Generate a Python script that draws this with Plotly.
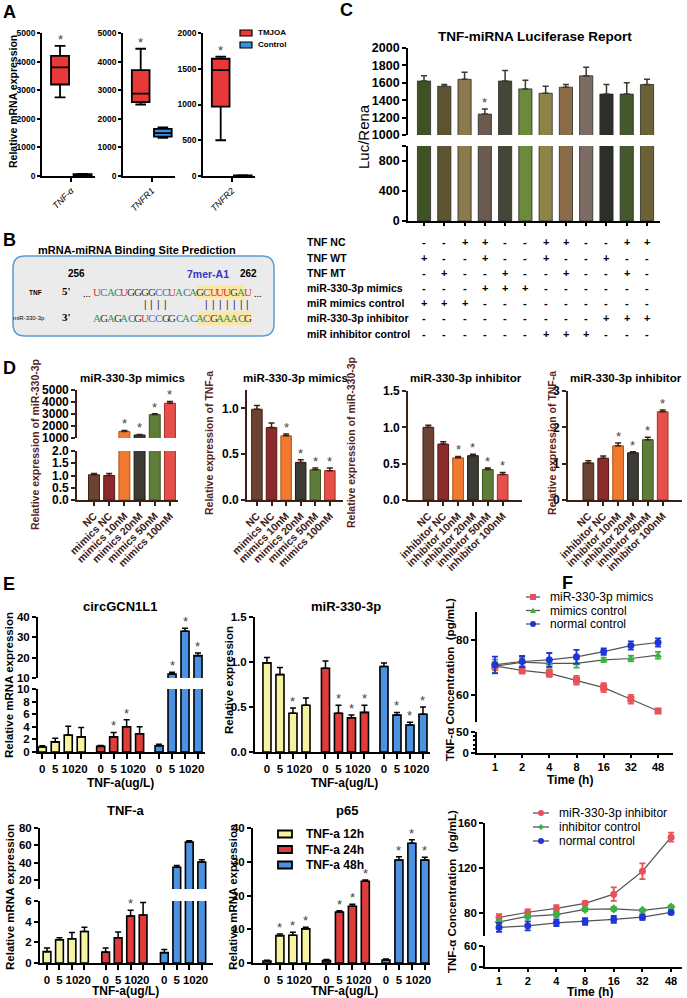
import plotly.graph_objects as go

W, H = 687, 998
FONT = "Arial"

# ---------------- DATA ----------------
# Panel A (box stats)
A_genes = ["TNF-α", "TNFR1", "TNFR2"]
A_groups = ["TMJOA", "Control"]
A_tmjoa_low = [2750, 2500, 500]
A_tmjoa_q1 = [3200, 2580, 970]
A_tmjoa_med = [3800, 2880, 1480]
A_tmjoa_q3 = [4200, 3700, 1640]
A_tmjoa_high = [4550, 4450, 1670]
A_ctrl_low = [25, 1330, 2]
A_ctrl_q1 = [35, 1380, 4]
A_ctrl_med = [50, 1500, 7]
A_ctrl_q3 = [65, 1650, 10]
A_ctrl_high = [75, 1700, 13]

# Panel B
B_tnf_seq = "UCACUGGGGCCUACAGCUUUGAU"
B_mir_seq = "AGAGACGUCCGGCACACGAAACG"
B_pairs = [7, 8, 9, 10, 16, 17, 18, 19, 20, 21, 22]

# Panel C
C_vals = [1620, 1560, 1640, 1240, 1620, 1530, 1480, 1550, 1680, 1470, 1470, 1580]
C_err = [60, 20, 80, 60, 120, 100, 80, 30, 100, 110, 130, 60]
C_stars = [3]
C_rows = ["TNF NC", "TNF WT", "TNF MT", "miR-330-3p mimics", "miR mimics control",
          "miR-330-3p inhibitor", "miR inhibitor control"]
C_table = [
    "--++--++--++",
    "+--+--+--+--",
    "-+--+--+--+-",
    "---+++------",
    "+++---------",
    "---------+++",
    "------+++---",
]

# Panel D
D_mim_labels = ["NC", "mimics NC", "mimics 10nM", "mimics 20nM", "mimics 50nM", "mimics 100nM"]
D_inh_labels = ["NC", "inhibitor NC", "inhibitor 10nM", "inhibitor 20nM", "inhibitor 50nM", "inhibitor 100nM"]
D1_vals = [1.03, 1.0, 1550, 1250, 2950, 3900]
D1_err = [0.05, 0.08, 80, 50, 80, 150]
D2_vals = [0.99, 0.79, 0.70, 0.41, 0.33, 0.32]
D2_err = [0.04, 0.05, 0.02, 0.03, 0.02, 0.03]
D3_vals = [1.0, 0.77, 0.58, 0.61, 0.42, 0.35]
D3_err = [0.03, 0.03, 0.02, 0.02, 0.02, 0.03]
D4_vals = [1.02, 1.15, 1.49, 1.30, 1.66, 2.43]
D4_err = [0.06, 0.06, 0.08, 0.03, 0.07, 0.05]
D_stars = [2, 3, 4, 5]

# Panel E
E_doses = ["0", "5", "10", "20"]
E_groups = ["TNF-a 12h", "TNF-a 24h", "TNF-a 48h"]
E1_vals = [[0.8, 1.6, 2.7, 2.4], [0.9, 2.4, 4.0, 2.9], [1.0, 12, 33, 21]]
E1_err = [[0.2, 0.6, 1.4, 1.5], [0.15, 0.7, 1.1, 1.1], [0.25, 0.8, 1.5, 1.3]]
E1_stars = [[], [1, 2], [1, 2, 3]]
E2_vals = [[0.99, 0.86, 0.43, 0.52], [0.93, 0.43, 0.38, 0.44], [0.95, 0.41, 0.30, 0.42]]
E2_err = [[0.06, 0.08, 0.06, 0.08], [0.08, 0.09, 0.03, 0.08], [0.04, 0.03, 0.03, 0.08]]
E2_stars = [[2], [1, 2, 3], [1, 2, 3]]
E3_vals = [[1.1, 2.25, 2.35, 3.05], [1.05, 2.45, 4.55, 4.65], [1.0, 35, 64, 41]]
E3_err = [[0.35, 0.2, 0.6, 0.4], [0.4, 0.55, 0.55, 1.2], [0.3, 2, 1.5, 2.5]]
E3_stars = [[], [2], []]
E4_vals = [[0.6, 8.1, 8.2, 10.1], [0.7, 15.1, 16.8, 24.2], [0.9, 30.5, 35.5, 30.5]]
E4_err = [[0.2, 0.5, 0.9, 0.5], [0.3, 0.4, 0.6, 0.4], [0.3, 1.0, 1.0, 0.8]]
E4_stars = [[1, 2, 3], [1, 2, 3], [1, 2, 3]]

# Panel F
F_times = ["1", "2", "4", "8", "16", "32", "48"]
F1_names = ["miR-330-3p mimics", "mimics control", "normal control"]
F1_mimics = [70.3, 68.8, 67.7, 65.2, 62.5, 58.3, 54.0]
F1_mimics_err = [1.5, 1.2, 1.3, 1.6, 1.6, 1.6, 0.8]
F1_mctrl = [70.2, 71.8, 71.3, 71.3, 72.6, 73.1, 74.3]
F1_mctrl_err = [2.5, 1.5, 1.5, 1.5, 0.8, 1.0, 1.2]
F1_norm = [70.8, 72.0, 72.6, 73.7, 75.6, 77.8, 78.9]
F1_norm_err = [3, 2, 2.5, 2.5, 1.2, 1.5, 1.5]
F1_stars = [4, 5, 6]
F2_names = ["miR-330-3p inhibitor", "inhibitor control", "normal control"]
F2_inh = [76.4, 81.0, 84.4, 88.9, 97.0, 117.3, 147.5]
F2_inh_err = [3, 2.5, 3, 2, 6, 7, 4]
F2_ictrl = [72.5, 77.3, 79.0, 83.6, 84.0, 82.7, 85.6]
F2_ictrl_err = [2, 2, 2, 1.5, 1.5, 1, 1.5]
F2_norm = [67.6, 69.0, 71.7, 72.9, 74.7, 76.7, 80.9]
F2_norm_err = [4, 4, 3, 3, 3, 2.5, 1.5]
F2_stars = [5, 6]

# ---------------- STYLE ----------------
A_cols = ["#e8383a", "#3b8fe0"]
C_cols = ['#3f5226', '#5e5530', '#8c7a4c', '#6a5a50', '#454538', '#6b8a3a',
          '#8f8448', '#8a6c4a', '#7d6c63', '#2c2e28', '#445a2c', '#6b6235']
D_cols = ['#6b4332', '#8b2a2a', '#f07a30', '#3c3c34', '#5e7d38', '#e6504a']
D_edge = ['#3a2010', '#5a1515', '#b05010', '#1a1a15', '#3a5520', '#b02a25']
D_line = '#3d2015'
D_title_col = '#5a2418'
E_cols = ['#f5f3a0', '#e23b3b', '#4b92e3']
F1_style = [('#e8505a', 'square'), ('#3cb043', 'triangle-up'), ('#1f35d6', 'circle')]
F2_style = [('#e8505a', 'circle'), ('#3cb043', 'diamond'), ('#1f35d6', 'circle')]
NT_COL = {'A': '#2e9e4a', 'C': '#3b6fc4', 'G': '#333333', 'U': '#e2322e'}

fig = go.Figure()
L = dict(width=W, height=H, margin=dict(l=0, r=0, t=0, b=0, autoexpand=False), paper_bgcolor='white',
         plot_bgcolor='rgba(0,0,0,0)', showlegend=False, font=dict(family=FONT, color='black'))
ann, shp = [], []
cnt = [0]


def P(x):
    return x / W


def Q(y):
    return 1 - y / H


def tf(size, color='black', bold=True, style=None):
    d = dict(family=FONT, size=size, color=color)
    if bold:
        d['weight'] = 'bold'
    if style:
        d['style'] = style
    return d


def mk_axes(x0, x1, ytop, ybot, xr, yr, show_x=True, xtype='linear', xkw=None, ykw=None,
            lc='black', lw=1.6, tsize=11):
    cnt[0] += 1
    i = cnt[0]
    s = '' if i == 1 else str(i)
    xa = dict(domain=[P(x0), P(x1)], range=xr, anchor='y' + s, type=xtype, showgrid=False,
              zeroline=False, showline=show_x, linecolor=lc, linewidth=lw, automargin=False,
              ticks='outside' if show_x else '', ticklen=4, tickwidth=lw, tickcolor=lc,
              showticklabels=show_x, tickfont=tf(tsize), fixedrange=True, tickangle=0)
    ya = dict(domain=[Q(ybot), Q(ytop)], range=yr, anchor='x' + s, showgrid=False, zeroline=False,
              showline=True, linecolor=lc, linewidth=lw, ticks='outside', ticklen=4, tickwidth=lw,
              tickcolor=lc, tickfont=tf(tsize), fixedrange=True, automargin=False)
    if xkw:
        xa.update(xkw)
    if ykw:
        ya.update(ykw)
    L['xaxis' + s] = xa
    L['yaxis' + s] = ya
    return 'x' + s, 'y' + s


def text(x, y, t, size=11, color='black', bold=True, xanchor='center', angle=0, family=FONT,
         yanchor='middle'):
    f = dict(family=family, size=size, color=color)
    if bold:
        f['weight'] = 'bold'
    ann.append(dict(x=P(x), y=Q(y), xref='paper', yref='paper', text=t, showarrow=False,
                    xanchor=xanchor, yanchor=yanchor, textangle=angle, font=f))


def swatch(x0, x1, yc, h, color, lw=1.5):
    shp.append(dict(type='rect', xref='paper', yref='paper', x0=P(x0), x1=P(x1),
                    y0=Q(yc + h / 2), y1=Q(yc - h / 2), fillcolor=color,
                    line=dict(color='black', width=lw)))


def legend_marker(cx, cy, half, color, symbol, r=3):
    # legend key: short grey line with a coloured marker
    shp.append(dict(type='line', xref='paper', yref='paper', x0=P(cx - half), x1=P(cx + half),
                    y0=Q(cy), y1=Q(cy), line=dict(color='#555555', width=1.3)))
    if symbol == 'square':
        shp.append(dict(type='rect', xref='paper', yref='paper', x0=P(cx - r), x1=P(cx + r),
                        y0=Q(cy + r), y1=Q(cy - r), fillcolor=color, line=dict(width=0)))
    elif symbol == 'circle':
        shp.append(dict(type='circle', xref='paper', yref='paper', x0=P(cx - r), x1=P(cx + r),
                        y0=Q(cy + r), y1=Q(cy - r), fillcolor=color, line=dict(width=0)))
    elif symbol == 'triangle-up':
        pth = f"M {P(cx - r)},{Q(cy + r * 0.8)} L {P(cx + r)},{Q(cy + r * 0.8)} L {P(cx)},{Q(cy - r)} Z"
        shp.append(dict(type='path', path=pth, xref='paper', yref='paper', fillcolor=color, line=dict(width=0)))
    elif symbol == 'diamond':
        pth = f"M {P(cx - r)},{Q(cy)} L {P(cx)},{Q(cy - r)} L {P(cx + r)},{Q(cy)} L {P(cx)},{Q(cy + r)} Z"
        shp.append(dict(type='path', path=pth, xref='paper', yref='paper', fillcolor=color, line=dict(width=0)))


def star(xr, yr, x, y, below=False, size=13):
    ann.append(dict(x=x, y=y, xref=xr, yref=yr, text='*', showarrow=False,
                    xanchor='center', yanchor='top' if below else 'bottom',
                    yshift=-1 if below else -3, font=dict(family=FONT, size=size, color='#444')))


def err_up(arr, color='black', thick=1.5, width=3):
    return dict(type='data', symmetric=False, array=arr, arrayminus=[0] * len(arr),
                color=color, thickness=thick, width=width)


def bar_panel(segs, xs, vals, errs, cols, edges, width, stars, lw=1.0, ecol='black'):
    for (xr, yr, lo, hi) in segs:
        fig.add_trace(go.Bar(x=xs, y=vals, width=width, xaxis=xr, yaxis=yr,
                             marker=dict(color=cols, line=dict(color=edges, width=lw)),
                             error_y=err_up(errs, ecol), showlegend=False, hoverinfo='skip'))
    for k in stars:
        top = vals[k] + errs[k]
        for (xr, yr, lo, hi) in segs:
            if lo <= top <= hi:
                star(xr, yr, xs[k], top)


# ---------------- PANEL A ----------------
A_layout = [(42, 95, [0, 5000], 1000), (123, 175, [0, 5000], 1000), (203, 255, [0, 2000], 500)]
for g, (x0, x1, yr, dt) in enumerate(A_layout):
    xr, yr_ = mk_axes(x0, x1, 33, 176, [-0.8, 1.55], yr, tsize=8.5, lw=1.8,
                      xkw=dict(tickvals=[0.5], ticktext=[A_genes[g]], tickangle=-45,
                               tickfont=tf(9, style='italic', bold=False)),
                      ykw=dict(dtick=dt, ticklen=3))
    stats = [(A_tmjoa_low, A_tmjoa_q1, A_tmjoa_med, A_tmjoa_q3, A_tmjoa_high),
             (A_ctrl_low, A_ctrl_q1, A_ctrl_med, A_ctrl_q3, A_ctrl_high)]
    for j, st in enumerate(stats):
        fig.add_trace(go.Box(x=[j], lowerfence=[st[0][g]], q1=[st[1][g]], median=[st[2][g]],
                             q3=[st[3][g]], upperfence=[st[4][g]], orientation='v',
                             fillcolor=A_cols[j], line=dict(color='black', width=1.8),
                             width=0.8, whiskerwidth=0.6, boxpoints=False, name=A_groups[j],
                             showlegend=False, xaxis=xr, yaxis=yr_, hoverinfo='skip'))
    star(xr, yr_, 0, A_tmjoa_high[g])
for j, nm in enumerate(A_groups):
    swatch(240, 252, 33 + 12 * j, 6, A_cols[j], lw=1.2)
    text(256, 33 + 12 * j, nm, size=8, xanchor='left')
text(13, 102, "Relative mRNA expression", size=10.5, angle=-90)

# ---------------- PANEL B ----------------
bx0, bx1, by0, by1, r = 13, 274, 256, 336, 12
path = (f"M {P(bx0 + r)},{Q(by0)} L {P(bx1 - r)},{Q(by0)} Q {P(bx1)},{Q(by0)} {P(bx1)},{Q(by0 + r)} "
        f"L {P(bx1)},{Q(by1 - r)} Q {P(bx1)},{Q(by1)} {P(bx1 - r)},{Q(by1)} "
        f"L {P(bx0 + r)},{Q(by1)} Q {P(bx0)},{Q(by1)} {P(bx0)},{Q(by1 - r)} "
        f"L {P(bx0)},{Q(by0 + r)} Q {P(bx0)},{Q(by0)} {P(bx0 + r)},{Q(by0)} Z")
shp.append(dict(type='path', path=path, xref='paper', yref='paper', fillcolor='#ebebeb',
                line=dict(color='#5b9bd5', width=1.5), layer='below'))
text(137, 250, "mRNA-miRNA Binding Site Prediction", size=11)
cx0, cdx = 97, 6.86
shp.append(dict(type='rect', xref='paper', yref='paper', x0=P(cx0 + cdx * 14.6), x1=P(cx0 + cdx * 21.6),
                y0=Q(299), y1=Q(285), fillcolor='#fbe6a8', line=dict(width=0), layer='below'))
shp.append(dict(type='rect', xref='paper', yref='paper', x0=P(cx0 + cdx * 14.6), x1=P(cx0 + cdx * 22.5),
                y0=Q(325), y1=Q(311), fillcolor='#fbe6a8', line=dict(width=0), layer='below'))
text(76, 274, "256", size=10)
text(208, 274, "7mer-A1", size=10.5, color='#3535c8')
text(248, 274, "262", size=10)
text(35, 292, "TNF", size=6.5)
text(29, 318, "miR-330-3p", size=6, bold=False)
text(66, 291, "5'", size=11, family="Liberation Serif")
text(66, 317, "3'", size=11, family="Liberation Serif")
text(cx0 - 4, 293, "...", size=10, family="Liberation Serif", bold=False, xanchor='right')
text(cx0 + cdx * 22 + 4, 293, "...", size=10, family="Liberation Serif", bold=False, xanchor='left')
for i, ch in enumerate(B_tnf_seq):
    text(cx0 + cdx * i, 292, ch, size=11, color=NT_COL[ch], family="Liberation Serif", bold=False)
for i, ch in enumerate(B_mir_seq):
    text(cx0 + cdx * i, 318, ch, size=11, color=NT_COL[ch], family="Liberation Serif", bold=False)
for i in B_pairs:
    text(cx0 + cdx * i, 304, "|", size=10, color='#333', bold=False)

# ---------------- PANEL C ----------------
C_x = list(range(len(C_vals)))
cxr = [-0.79, 11.64]
xu, yu = mk_axes(408, 660, 48, 135, cxr, [1000, 2000], show_x=False, tsize=12.5, lw=1.8,
                 ykw=dict(dtick=200))
xl, yl = mk_axes(408, 660, 146, 221, cxr, [0, 1000], tsize=12.5, lw=1.8,
                 xkw=dict(tickvals=C_x, showticklabels=False, ticklen=3),
                 ykw=dict(tickvals=[0, 400, 800, 1000], ticktext=['0', '400', '800', '']))
bar_panel([(xu, yu, 1000, 2000), (xl, yl, 0, 1000)], C_x, C_vals, C_err, C_cols,
          '#2a2a22', 0.65, C_stars, lw=0.8, ecol='#3a3a30')
text(535, 37, "TNF-miRNA Luciferase Report", size=13.5)
text(364, 137, "Luc/Rena", size=15, angle=-90, bold=False)
C_row_y = [242, 258, 273, 288, 303, 318, 334]
for ri, lab in enumerate(C_rows):
    text(305, C_row_y[ri], lab, size=10.5, xanchor='left')
    for k, ch in enumerate(C_table[ri]):
        ann.append(dict(x=k, y=Q(C_row_y[ri]), xref=xl, yref='paper', text=ch, showarrow=False,
                        xanchor='center', yanchor='middle', font=tf(11)))

# ---------------- PANEL D ----------------
dkw_x = dict(tickangle=-45, tickfont=tf(10.5, color=D_line))
x1u, y1u = mk_axes(77, 178, 390, 438, [-1.12, 5.53], [1000, 5000], show_x=False, lc=D_line,
                   tsize=12, xtype='category', ykw=dict(dtick=1000))
x1l, y1l = mk_axes(77, 178, 451, 500, [-1.12, 5.53], [0, 2.0], lc=D_line, tsize=12,
                   xtype='category', xkw=dkw_x, ykw=dict(dtick=0.5, tickformat='.1f'))
bar_panel([(x1u, y1u, 1000, 5000), (x1l, y1l, 0, 2.0)], D_mim_labels, D1_vals, D1_err, D_cols,
          D_edge, 0.72, D_stars, ecol=D_line)
x2, y2 = mk_axes(247, 343, 390, 500, [-0.68, 5.9], [0, 1.2], lc=D_line, tsize=12, xtype='category',
                 xkw=dkw_x, ykw=dict(tickvals=[0, 0.5, 1.0], tickformat='.1f'))
bar_panel([(x2, y2, 0, 1.2)], D_mim_labels, D2_vals, D2_err, D_cols, D_edge, 0.72, D_stars, ecol=D_line)
x3, y3 = mk_axes(408, 522, 391, 500, [-1.37, 6.3], [0, 1.5], lc=D_line, tsize=12, xtype='category',
                 xkw=dkw_x, ykw=dict(dtick=0.5, tickformat='.1f'))
bar_panel([(x3, y3, 0, 1.5)], D_inh_labels, D3_vals, D3_err, D_cols, D_edge, 0.72, D_stars, ecol=D_line)
x4, y4 = mk_axes(568, 682, 391, 500, [-1.37, 6.3], [0, 3], lc=D_line, tsize=12, xtype='category',
                 xkw=dkw_x, ykw=dict(dtick=1))
bar_panel([(x4, y4, 0, 3)], D_inh_labels, D4_vals, D4_err, D_cols, D_edge, 0.72, D_stars, ecol=D_line)
text(132, 378, "miR-330-3p mimics", size=11.5)
text(295, 378, "miR-330-3p mimics", size=11.5)
text(466, 378, "miR-330-3p inhibitor", size=11.5)
text(626, 378, "miR-330-3p inhibitor", size=11.5)
text(35, 445, "Relative expression of miR-330-3p", size=10.5, angle=-90, color=D_title_col)
text(209, 443, "Relative expression of TNF-a", size=10.5, angle=-90, color=D_title_col)
text(351, 443, "Relative expression of miR-330-3p", size=10.5, angle=-90, color=D_title_col)
text(552, 443, "Relative expression of TNF-a", size=10.5, angle=-90, color=D_title_col)


# ---------------- PANEL E ----------------
def e_positions(gs):
    return [[g * gs + j for j in range(len(E_doses))] for g in range(len(E_groups))]


def e_panel(segs, gs, vals, errs, stars):
    pos = e_positions(gs)
    for si, (xr, yr, lo, hi) in enumerate(segs):
        for g in range(len(E_groups)):
            fig.add_trace(go.Bar(x=pos[g], y=vals[g], width=0.62, xaxis=xr, yaxis=yr,
                                 name=E_groups[g], marker=dict(color=E_cols[g], line=dict(color='black', width=1.6)),
                                 error_y=err_up(errs[g]), showlegend=False, hoverinfo='skip'))
    for g in range(len(E_groups)):
        for k in stars[g]:
            top = vals[g][k] + errs[g][k]
            for (xr, yr, lo, hi) in segs:
                if lo <= top <= hi:
                    star(xr, yr, pos[g][k], top)
    return pos


def e_xkw(gs):
    pos = e_positions(gs)
    tv = [p for grp in pos for p in grp]
    return dict(tickvals=tv, ticktext=E_doses * len(E_groups), tickfont=tf(11.5), ticklen=5, tickangle=0)


gs1 = 4.5
e1u = mk_axes(38, 205, 617, 678, [-0.33, 12.54], [10, 40], show_x=False, lw=2, tsize=11.5,
              ykw=dict(dtick=10))
e1l = mk_axes(38, 205, 689, 752, [-0.33, 12.54], [0, 10], lw=2, tsize=11.5, xkw=e_xkw(gs1),
              ykw=dict(dtick=2))
e_panel([(e1u[0], e1u[1], 10, 40), (e1l[0], e1l[1], 0, 10)], gs1, E1_vals, E1_err, E1_stars)
gs2 = 4.5
e2 = mk_axes(255, 430, 617, 752, [-0.92, 12.54], [0, 1.5], lw=2, tsize=11.5, xkw=e_xkw(gs2),
             ykw=dict(dtick=0.5, tickformat='.1f'))
e_panel([(e2[0], e2[1], 0, 1.5)], gs2, E2_vals, E2_err, E2_stars)
gs3 = 4.7
e3u = mk_axes(40, 213, 828, 889, [-0.56, 13.3], [10, 80], show_x=False, lw=2, tsize=11.5,
              ykw=dict(tickvals=[20, 40, 60, 80]))
e3l = mk_axes(40, 213, 901, 963, [-0.56, 13.3], [0, 6], lw=2, tsize=11.5, xkw=e_xkw(gs3),
              ykw=dict(dtick=2))
e_panel([(e3u[0], e3u[1], 10, 80), (e3l[0], e3l[1], 0, 6)], gs3, E3_vals, E3_err, E3_stars)
gs4 = 4.6
e4 = mk_axes(253, 430, 828, 963, [-1.08, 12.6], [0, 40], lw=2, tsize=11.5, xkw=e_xkw(gs4),
             ykw=dict(dtick=10))
e_panel([(e4[0], e4[1], 0, 40)], gs4, E4_vals, E4_err, E4_stars)
for g, nm in enumerate(E_groups):
    swatch(278, 292, 834 + 15.5 * g, 7, E_cols[g], lw=1.8)
    text(304, 834 + 15.5 * g, nm, size=12, xanchor='left')
text(120, 606, "circGCN1L1", size=13)
text(346, 606, "miR-330-3p", size=13)
text(126, 810, "TNF-a", size=13)
text(347, 810, "p65", size=13)
text(120, 783, "TNF-a(ug/L)", size=12)
text(344, 783, "TNF-a(ug/L)", size=12)
text(125, 991, "TNF-a(ug/L)", size=12)
text(344, 991, "TNF-a(ug/L)", size=12)
text(9, 685, "Relative mRNA expression", size=11.5, angle=-90)
text(229, 680, "Relative expression", size=11.5, angle=-90)
text(10, 897, "Relative mRNA expression", size=11.5, angle=-90)
text(233, 897, "Relative mRNA expression", size=11.5, angle=-90)


# ---------------- PANEL F ----------------
def f_trace(segs, vals, errs, name, color, symbol, size=7):
    (xu_, yu_), (xl_, yl_) = segs
    fig.add_trace(go.Scatter(x=F_times, y=vals, mode='lines+markers', name=name, xaxis=xu_, yaxis=yu_,
                             line=dict(color='#555555', width=1.2),
                             marker=dict(symbol=symbol, color=color, size=size),
                             error_y=dict(type='data', array=errs, color=color, thickness=1.8, width=3),
                             showlegend=False, hoverinfo='skip'))
    # lower (broken) segment: same series, only the clipped line (values lie above this segment)
    fig.add_trace(go.Scatter(x=F_times, y=vals, mode='lines', xaxis=xl_, yaxis=yl_,
                             line=dict(color='#555555', width=1.2), showlegend=False, hoverinfo='skip'))


fxr1 = [-0.66, 6.55]
f1u = mk_axes(477, 673, 612, 722, fxr1, [50, 90], show_x=False, lw=1.6, tsize=11.5, xtype='category',
              ykw=dict(tickvals=[60, 80]))
f1l = mk_axes(477, 673, 732, 753, fxr1, [0, 50], lw=1.6, tsize=11.5, xtype='category',
              xkw=dict(tickfont=tf(11), ticklen=3),
              ykw=dict(tickvals=[0, 50], minor=dict(dtick=10, ticks='outside', ticklen=2, tickcolor='black')))
f1s = [f1u, f1l]
for vals, errs, nm, (c, sym) in zip([F1_mimics, F1_mctrl, F1_norm], [F1_mimics_err, F1_mctrl_err, F1_norm_err],
                                    F1_names, F1_style):
    f_trace(f1s, vals, errs, nm, c, sym)
for k in F1_stars:
    star(f1u[0], f1u[1], F_times[k], F1_mimics[k] - F1_mimics_err[k], below=True)

fxr2 = [-0.49, 6.38]
f2u = mk_axes(485, 682, 823, 936, fxr2, [60, 160], show_x=False, lw=1.6, tsize=11.5, xtype='category',
              ykw=dict(tickvals=[80, 120, 160]))
f2l = mk_axes(485, 682, 946, 967, fxr2, [0, 60], lw=1.6, tsize=11.5, xtype='category',
              xkw=dict(tickfont=tf(11), ticklen=3), ykw=dict(tickvals=[0, 60]))
f2s = [f2u, f2l]
for vals, errs, nm, (c, sym) in zip([F2_inh, F2_ictrl, F2_norm], [F2_inh_err, F2_ictrl_err, F2_norm_err],
                                    F2_names, F2_style):
    f_trace(f2s, vals, errs, nm, c, sym)
for k in F2_stars:
    star(f2u[0], f2u[1], F_times[k], F2_inh[k] + F2_inh_err[k])

# legends for F
for i, (nm, (c, sym)) in enumerate(zip(F1_names, F1_style)):
    yy = 597 + 13.5 * i
    legend_marker(533, yy, 7, c, sym)
    text(548, yy, nm, size=12, bold=False, xanchor='left')
for i, (nm, (c, sym)) in enumerate(zip(F2_names, F2_style)):
    yy = 813 + 14 * i
    legend_marker(541, yy, 8, c, sym)
    text(557, yy, nm, size=12, bold=False, xanchor='left')

text(450, 680, "TNF-α Concentration  (pg/mL)", size=11.5, angle=-90)
text(452, 892, "TNF-α Concentration  (pg/mL)", size=11.5, angle=-90)
text(570, 780, "Time (h)", size=12)
text(590, 992, "Time (h)", size=12)

# ---------------- PANEL LETTERS ----------------
for lab, x, y in [("A", 9, 12), ("B", 9, 240), ("C", 346, 10), ("D", 9, 368), ("E", 9, 584), ("F", 567, 583)]:
    text(x, y, lab, size=18)

L['annotations'] = ann
L['shapes'] = shp
fig.update_layout(**L)
fig.write_html("out.html", config={'displayModeBar': False},
               post_script="document.body.style.margin='0px';")
